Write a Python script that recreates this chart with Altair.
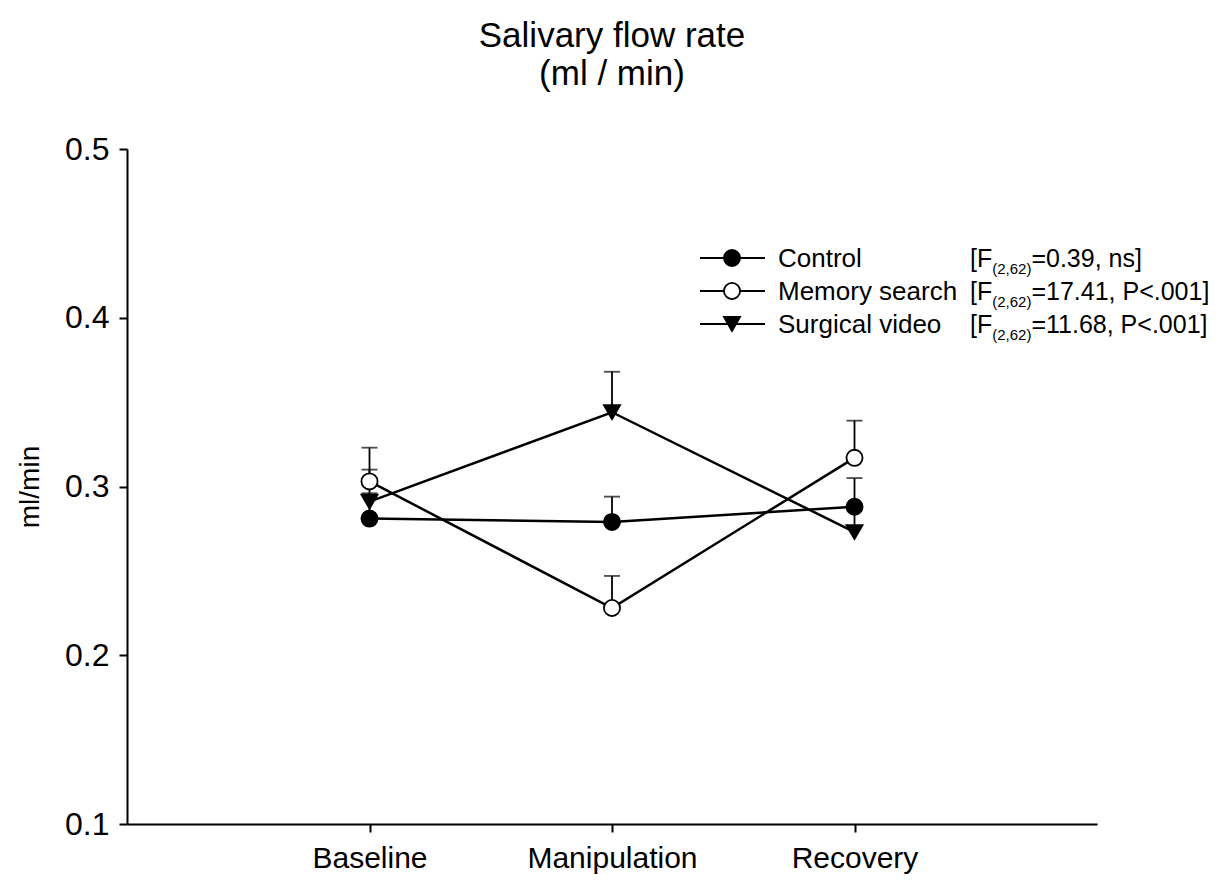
import altair as alt
import pandas as pd

# ---- data ----
phases = ["Baseline", "Manipulation", "Recovery"]
series = ["Control", "Memory search", "Surgical video"]
control_mean = [0.281, 0.279, 0.288]
control_upper = [0.296, 0.294, 0.305]
memory_mean = [0.303, 0.228, 0.317]
memory_upper = [0.323, 0.247, 0.339]
surgical_mean = [0.291, 0.344, 0.273]
surgical_upper = [0.310, 0.368, 0.288]
stats_pre = ["[F", "[F", "[F"]
stats_sub = ["(2,62)", "(2,62)", "(2,62)"]
stats_post = ["=0.39, ns]", "=17.41, P<.001]", "=11.68, P<.001]"]
y_ticks = [0.1, 0.2, 0.3, 0.4, 0.5]

FONT = "Liberation Sans"
shapes = ["circle", "circle", "triangle-down"]
fills = ["black", "white", "black"]
sizes = [260, 260, 300]

rows = []
for s, m, u in zip(series, [control_mean, memory_mean, surgical_mean],
                   [control_upper, memory_upper, surgical_upper]):
    for p, mv, uv in zip(phases, m, u):
        rows.append({"phase": p, "series": s, "mean": mv, "upper": uv})
df = pd.DataFrame(rows)

W, H = 970, 675
x_enc = alt.X("phase:N", sort=phases,
              scale=alt.Scale(type="point", padding=1.025),
              axis=alt.Axis(title=None, labelAngle=0, labelFontSize=30,
                            labelFont=FONT, labelColor="black",
                            labelPadding=11, tickSize=8))
y_scale = alt.Scale(domain=[0.1, 0.5], nice=False, zero=False)
y_axis = alt.Axis(title="ml/min", values=y_ticks, format=".1f",
                  labelFontSize=32, labelFont=FONT, labelColor="black",
                  labelPadding=10, tickSize=8, titleFont=FONT,
                  titleFontSize=28, titleFontWeight="normal",
                  titleColor="black", titlePadding=20)

shape_scale = alt.Scale(domain=series, range=shapes)
fill_scale = alt.Scale(domain=series, range=fills)
size_scale = alt.Scale(domain=series, range=sizes)

base = alt.Chart(df)
lines = base.mark_line(color="black", strokeWidth=2.5).encode(
    x=x_enc, y=alt.Y("mean:Q", scale=y_scale, axis=y_axis),
    detail="series:N")
bars = base.mark_rule(color="black", strokeWidth=1.8).encode(
    x=alt.X("phase:N", sort=phases), y="mean:Q", y2="upper:Q")
caps = base.mark_tick(color="black", thickness=1.8, size=16,
                      orient="horizontal").encode(
    x=alt.X("phase:N", sort=phases), y="upper:Q")
points = base.mark_point(opacity=1, stroke="black", strokeWidth=1.8).encode(
    x=alt.X("phase:N", sort=phases), y="mean:Q",
    shape=alt.Shape("series:N", scale=shape_scale, legend=None),
    fill=alt.Fill("series:N", scale=fill_scale, legend=None),
    size=alt.Size("series:N", scale=size_scale, legend=None))
main = alt.layer(lines, bars, caps, points)

# ---- hand-built legend (pixel positions inside the plot area) ----
AW = {'[': .278, 'F': .611, '(': .333, ')': .333, '2': .556, ',': .278,
      '6': .556, '=': .584, '0': .556, '.': .278, '3': .556, '9': .556,
      ' ': .278, 'n': .556, 's': .5, ']': .278, '1': .556, '7': .556,
      '4': .556, 'P': .667, '<': .584, '8': .556}


def tw(t, fs):
    return sum(AW.get(c, .556) for c in t) * fs


LX0, LX1, LMX, LTX, LSX = 700 - 127, 765 - 127, 732 - 127, 778 - 127, 970 - 127
row_y = [258 - 149, 291 - 149, 324 - 149]
FS, SFS, STFS = 26, 15, 25

leg = pd.DataFrame({"series": series, "py": row_y})
leg_lines = alt.Chart(leg).mark_rule(color="black", strokeWidth=2).encode(
    x=alt.value(LX0), x2=alt.value(LX1),
    y=alt.Y("py:Q", scale=None, axis=None))
leg_pts = alt.Chart(leg).mark_point(opacity=1, stroke="black",
                                    strokeWidth=1.8).encode(
    x=alt.value(LMX), y=alt.Y("py:Q", scale=None, axis=None),
    shape=alt.Shape("series:N", scale=shape_scale, legend=None),
    fill=alt.Fill("series:N", scale=fill_scale, legend=None),
    size=alt.Size("series:N", scale=size_scale, legend=None))

trows = []
for i, s in enumerate(series):
    y = row_y[i] + 9
    trows.append({"t": s, "px": LTX, "py": y, "fs": FS})
    x = LSX
    trows.append({"t": stats_pre[i], "px": x, "py": y, "fs": STFS})
    x += tw(stats_pre[i], STFS)
    trows.append({"t": stats_sub[i], "px": x, "py": y + 7, "fs": SFS})
    x += tw(stats_sub[i], SFS)
    trows.append({"t": stats_post[i], "px": x, "py": y, "fs": STFS})
tdf = pd.DataFrame(trows)
leg_text = alt.Chart(tdf).mark_text(align="left", baseline="alphabetic",
                                    font=FONT, color="black").encode(
    x=alt.X("px:Q", scale=None, axis=None),
    y=alt.Y("py:Q", scale=None, axis=None),
    text="t:N",
    size=alt.Size("fs:Q", scale=None, legend=None))
overlay = alt.layer(leg_lines, leg_pts, leg_text)

chart = alt.layer(main, overlay).resolve_scale(
    x="independent", y="independent"
).properties(
    width=W, height=H,
    title=alt.TitleParams(["Salivary flow rate", "(ml / min)"],
                          font=FONT, fontSize=35, fontWeight="normal",
                          color="black", anchor="middle", lineHeight=38,
                          offset=41),
    padding={"left": 119, "top": 141, "right": 118, "bottom": 51},
    autosize=alt.AutoSizeParams(type="none"),
).configure_view(stroke=None).configure_axis(
    grid=False, domainColor="black", domainWidth=2, tickColor="black",
    tickWidth=2)

chart.save("out.html", embed_options={"renderer": "svg", "actions": False})
